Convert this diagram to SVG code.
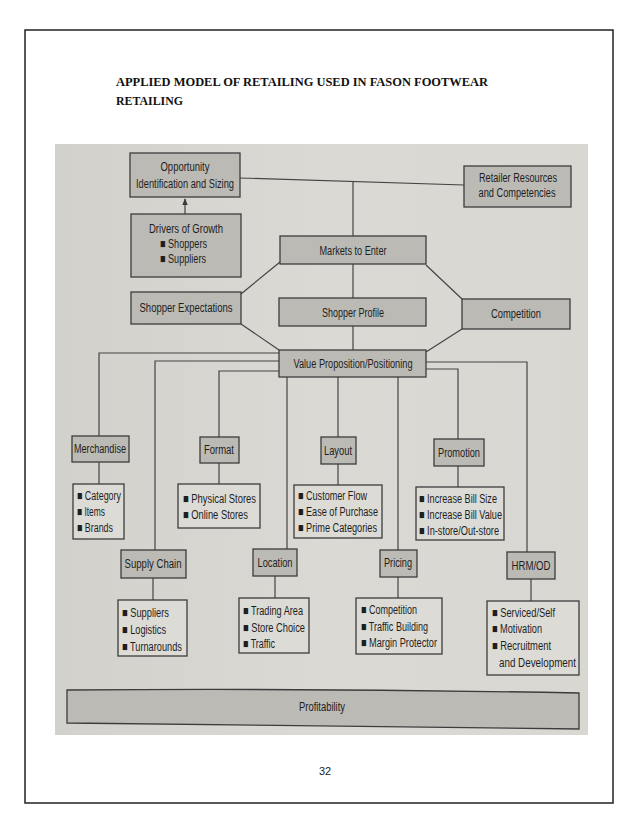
<svg xmlns="http://www.w3.org/2000/svg" width="638" height="826" viewBox="0 0 638 826">
<defs>
<linearGradient id="paper" x1="0" y1="0" x2="1" y2="0">
<stop offset="0" stop-color="#d2d1cc"/>
<stop offset="0.5" stop-color="#dad9d4"/>
<stop offset="1" stop-color="#d8d7d2"/>
</linearGradient>
<marker id="arr" viewBox="0 0 10 10" refX="9" refY="5" markerWidth="6" markerHeight="6" orient="auto">
<path d="M0,1 L10,5 L0,9 Z" fill="#3a3a3a"/>
</marker>
</defs>
<style>
.box{fill:#bbbab4;stroke:#3c3c3c;stroke-width:1.3}
.list{fill:#dcdbd6;stroke:#3c3c3c;stroke-width:1.3}
.t{font-family:"Liberation Sans",Arial,sans-serif;font-size:12.5px;fill:#1e1e1e}
.c{text-anchor:middle}
.ln{fill:none;stroke:#444;stroke-width:1.2}
.title{font-family:"Liberation Serif","Times New Roman",serif;font-size:12px;font-weight:bold;fill:#111}
</style>
<rect x="0" y="0" width="638" height="826" fill="#ffffff"/>
<rect x="25" y="30" width="588" height="773" fill="none" stroke="#222" stroke-width="1.5"/>
<text class="title" x="116" y="86" textLength="372" lengthAdjust="spacingAndGlyphs">APPLIED MODEL OF RETAILING USED IN FASON FOOTWEAR</text>
<text class="title" x="116" y="105" textLength="67" lengthAdjust="spacingAndGlyphs">RETAILING</text>
<rect x="55" y="144" width="533" height="591" fill="url(#paper)"/>

<g id="connectors">
<line class="ln" x1="185" y1="214" x2="185" y2="199" marker-end="url(#arr)"/>
<line class="ln" x1="240" y1="178" x2="464" y2="185"/>
<line class="ln" x1="353" y1="181" x2="353" y2="236"/>
<line class="ln" x1="353" y1="264" x2="353" y2="298"/>
<line class="ln" x1="353" y1="326" x2="353" y2="350"/>
<line class="ln" x1="280" y1="262" x2="241" y2="294"/>
<line class="ln" x1="426" y1="265" x2="462" y2="299"/>
<line class="ln" x1="241" y1="324" x2="279" y2="350"/>
<line class="ln" x1="462" y1="329" x2="426" y2="352"/>
<polyline class="ln" points="279,353 99,353 99,436"/>
<polyline class="ln" points="279,361 155,361 155,550"/>
<polyline class="ln" points="279,371 219,371 219,437"/>
<line class="ln" x1="287" y1="377" x2="287" y2="549"/>
<line class="ln" x1="338" y1="377" x2="338" y2="437"/>
<line class="ln" x1="398" y1="377" x2="398" y2="550"/>
<polyline class="ln" points="426,369 458,369 458,439"/>
<polyline class="ln" points="426,362 527,362 527,552"/>
<line class="ln" x1="99" y1="462" x2="99" y2="484"/>
<line class="ln" x1="219" y1="463" x2="219" y2="484"/>
<line class="ln" x1="338" y1="464" x2="338" y2="485"/>
<line class="ln" x1="458" y1="466" x2="458" y2="487"/>
<line class="ln" x1="153" y1="578" x2="153" y2="600"/>
<line class="ln" x1="275" y1="576" x2="275" y2="598"/>
<line class="ln" x1="398" y1="577" x2="398" y2="598"/>
<line class="ln" x1="531" y1="579" x2="531" y2="601"/>
</g>

<g id="opportunity">
<rect class="box" x="130" y="153" width="110" height="44"/>
<text class="t c" x="185" y="171" textLength="49" lengthAdjust="spacingAndGlyphs">Opportunity</text>
<text class="t c" x="185" y="188" textLength="98" lengthAdjust="spacingAndGlyphs">Identification and Sizing</text>
</g>
<g id="drivers">
<rect class="box" x="131" y="214" width="110" height="63"/>
<text class="t c" x="186" y="233" textLength="74" lengthAdjust="spacingAndGlyphs">Drivers of Growth</text>
<text class="t" x="160" y="248" textLength="47" lengthAdjust="spacingAndGlyphs">■ Shoppers</text>
<text class="t" x="160" y="263" textLength="46" lengthAdjust="spacingAndGlyphs">■ Suppliers</text>
</g>
<g id="retailer">
<rect class="box" x="464" y="166" width="107" height="41"/>
<text class="t c" x="518" y="182" textLength="78" lengthAdjust="spacingAndGlyphs">Retailer Resources</text>
<text class="t c" x="517" y="197" textLength="77" lengthAdjust="spacingAndGlyphs">and Competencies</text>
</g>
<g id="markets">
<rect class="box" x="280" y="236" width="146" height="28"/>
<text class="t c" x="353" y="255" textLength="67" lengthAdjust="spacingAndGlyphs">Markets to Enter</text>
</g>
<g id="expectations">
<rect class="box" x="131" y="292" width="110" height="32"/>
<text class="t c" x="186" y="312" textLength="93" lengthAdjust="spacingAndGlyphs">Shopper Expectations</text>
</g>
<g id="profile">
<rect class="box" x="279" y="298" width="147" height="28"/>
<text class="t c" x="353" y="317" textLength="62" lengthAdjust="spacingAndGlyphs">Shopper Profile</text>
</g>
<g id="competition">
<rect class="box" x="462" y="299" width="108" height="30"/>
<text class="t c" x="516" y="318" textLength="50" lengthAdjust="spacingAndGlyphs">Competition</text>
</g>
<g id="value">
<rect class="box" x="279" y="350" width="147" height="27"/>
<text class="t c" x="353" y="368" textLength="119" lengthAdjust="spacingAndGlyphs">Value Proposition/Positioning</text>
</g>

<g id="merchandise">
<rect class="box" x="72" y="436" width="57" height="26"/>
<text class="t c" x="100" y="453" textLength="52" lengthAdjust="spacingAndGlyphs">Merchandise</text>
</g>
<g id="merchandise-list">
<rect class="list" x="73" y="484" width="51" height="55"/>
<text class="t" x="77" y="500" textLength="44" lengthAdjust="spacingAndGlyphs">■ Category</text>
<text class="t" x="77" y="516" textLength="28" lengthAdjust="spacingAndGlyphs">■ Items</text>
<text class="t" x="77" y="532" textLength="36" lengthAdjust="spacingAndGlyphs">■ Brands</text>
</g>
<g id="format">
<rect class="box" x="200" y="437" width="39" height="26"/>
<text class="t c" x="219" y="454" textLength="30" lengthAdjust="spacingAndGlyphs">Format</text>
</g>
<g id="format-list">
<rect class="list" x="178" y="484" width="82" height="44"/>
<text class="t" x="183" y="503" textLength="73" lengthAdjust="spacingAndGlyphs">■ Physical Stores</text>
<text class="t" x="183" y="519" textLength="65" lengthAdjust="spacingAndGlyphs">■ Online Stores</text>
</g>
<g id="layout">
<rect class="box" x="321" y="437" width="35" height="27"/>
<text class="t c" x="338" y="455" textLength="28" lengthAdjust="spacingAndGlyphs">Layout</text>
</g>
<g id="layout-list">
<rect class="list" x="294" y="485" width="88" height="53"/>
<text class="t" x="298" y="500" textLength="69" lengthAdjust="spacingAndGlyphs">■ Customer Flow</text>
<text class="t" x="298" y="516" textLength="80" lengthAdjust="spacingAndGlyphs">■ Ease of Purchase</text>
<text class="t" x="298" y="532" textLength="79" lengthAdjust="spacingAndGlyphs">■ Prime Categories</text>
</g>
<g id="promotion">
<rect class="box" x="434" y="439" width="50" height="27"/>
<text class="t c" x="459" y="457" textLength="42" lengthAdjust="spacingAndGlyphs">Promotion</text>
</g>
<g id="promotion-list">
<rect class="list" x="416" y="487" width="88" height="53"/>
<text class="t" x="419" y="503" textLength="78" lengthAdjust="spacingAndGlyphs">■ Increase Bill Size</text>
<text class="t" x="419" y="519" textLength="83" lengthAdjust="spacingAndGlyphs">■ Increase Bill Value</text>
<text class="t" x="419" y="535" textLength="80" lengthAdjust="spacingAndGlyphs">■ In-store/Out-store</text>
</g>

<g id="supply-chain">
<rect class="box" x="121" y="550" width="65" height="28"/>
<text class="t c" x="153" y="568" textLength="57" lengthAdjust="spacingAndGlyphs">Supply Chain</text>
</g>
<g id="supply-chain-list">
<rect class="list" x="118" y="600" width="69" height="56"/>
<text class="t" x="122" y="617" textLength="47" lengthAdjust="spacingAndGlyphs">■ Suppliers</text>
<text class="t" x="122" y="634" textLength="44" lengthAdjust="spacingAndGlyphs">■ Logistics</text>
<text class="t" x="122" y="651" textLength="60" lengthAdjust="spacingAndGlyphs">■ Turnarounds</text>
</g>
<g id="location">
<rect class="box" x="253" y="549" width="44" height="27"/>
<text class="t c" x="275" y="567" textLength="35" lengthAdjust="spacingAndGlyphs">Location</text>
</g>
<g id="location-list">
<rect class="list" x="239" y="598" width="70" height="55"/>
<text class="t" x="243" y="615" textLength="60" lengthAdjust="spacingAndGlyphs">■ Trading Area</text>
<text class="t" x="243" y="632" textLength="62" lengthAdjust="spacingAndGlyphs">■ Store Choice</text>
<text class="t" x="243" y="648" textLength="32" lengthAdjust="spacingAndGlyphs">■ Traffic</text>
</g>
<g id="pricing">
<rect class="box" x="380" y="550" width="37" height="27"/>
<text class="t c" x="398" y="567" textLength="28" lengthAdjust="spacingAndGlyphs">Pricing</text>
</g>
<g id="pricing-list">
<rect class="list" x="356" y="598" width="86" height="56"/>
<text class="t" x="361" y="614" textLength="56" lengthAdjust="spacingAndGlyphs">■ Competition</text>
<text class="t" x="361" y="631" textLength="67" lengthAdjust="spacingAndGlyphs">■ Traffic Building</text>
<text class="t" x="361" y="647" textLength="76" lengthAdjust="spacingAndGlyphs">■ Margin Protector</text>
</g>
<g id="hrm">
<rect class="box" x="507" y="552" width="48" height="27"/>
<text class="t c" x="531" y="570" textLength="39" lengthAdjust="spacingAndGlyphs">HRM/OD</text>
</g>
<g id="hrm-list">
<rect class="list" x="487" y="601" width="92" height="74"/>
<text class="t" x="492" y="617" textLength="63" lengthAdjust="spacingAndGlyphs">■ Serviced/Self</text>
<text class="t" x="492" y="633" textLength="50" lengthAdjust="spacingAndGlyphs">■ Motivation</text>
<text class="t" x="492" y="650" textLength="59" lengthAdjust="spacingAndGlyphs">■ Recruitment</text>
<text class="t" x="499" y="667" textLength="77" lengthAdjust="spacingAndGlyphs">and Development</text>
</g>

<g id="profitability">
<path class="box" d="M67,690 Q320,688 579,693 L579,729 Q320,725 67,723 Z" fill="#b7b6b0"/>
<text class="t c" x="322" y="711" textLength="46" lengthAdjust="spacingAndGlyphs">Profitability</text>
</g>

<text x="325" y="775" font-family="'Liberation Sans',Arial,sans-serif" font-size="11" text-anchor="middle" fill="#222">32</text>
</svg>
